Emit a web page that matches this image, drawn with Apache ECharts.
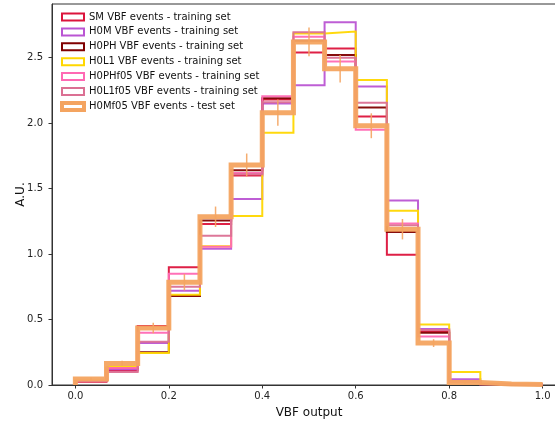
<!DOCTYPE html>
<html><head><meta charset="utf-8">
<script src="https://cdn.jsdelivr.net/npm/echarts@6/dist/echarts.min.js"></script>
<style>html,body{margin:0;padding:0;background:#fff}#c{width:555px;height:422px}</style>
</head><body><div id="c"></div>
<script>
// 15 equal-width bins on [0, 1]
const binEdges = [0, 1/15, 2/15, 3/15, 4/15, 5/15, 6/15, 7/15, 8/15, 9/15, 10/15, 11/15, 12/15, 13/15, 14/15, 1];

const seriesNames = [
  'SM VBF events - training set',
  'H0M VBF events - training set',
  'H0PH VBF events - training set',
  'H0L1 VBF events - training set',
  'H0PHf05 VBF events - training set',
  'H0L1f05 VBF events - training set',
  'H0Mf05 VBF events - test set'
];
const seriesColors = ['#dc143c', '#ba55d3', '#800000', '#ffd700', '#ff69b4', '#db7093', '#f4a460'];

const smTrain      = [0.025, 0.11, 0.45, 0.90, 1.23, 1.60, 2.18, 2.54, 2.57, 2.05, 0.995, 0.41, 0.03, 0.008, 0.003];
const h0mTrain     = [0.030, 0.12, 0.32, 0.72, 1.04, 1.42, 2.15, 2.29, 2.77, 2.28, 1.41, 0.427, 0.044, 0.010, 0.005];
const h0phTrain    = [0.030, 0.13, 0.25, 0.68, 1.257, 1.64, 2.19, 2.63, 2.52, 2.12, 1.168, 0.40, 0.025, 0.006, 0.002];
const h0l1Train    = [0.035, 0.14, 0.245, 0.69, 1.06, 1.29, 1.926, 2.685, 2.70, 2.33, 1.33, 0.463, 0.10, 0.010, 0.003];
const h0phf05Train = [0.030, 0.13, 0.40, 0.85, 1.056, 1.62, 2.206, 2.66, 2.47, 1.95, 1.234, 0.37, 0.025, 0.006, 0.002];
const h0l1f05Train = [0.030, 0.10, 0.33, 0.75, 1.14, 1.61, 2.16, 2.695, 2.50, 2.155, 1.22, 0.42, 0.03, 0.006, 0.002];
const h0mf05Test   = [0.045, 0.165, 0.435, 0.785, 1.285, 1.68, 2.08, 2.62, 2.415, 1.98, 1.19, 0.32, 0.02, 0.008, 0.003];
const h0mf05TestErr= [0.010, 0.020, 0.040, 0.063, 0.078, 0.088, 0.100, 0.110, 0.105, 0.095, 0.078, 0.030, 0.010, 0.004, 0.002];

const xTicks = [0, 0.2, 0.4, 0.6, 0.8, 1.0];
const yTicks = [0, 0.5, 1.0, 1.5, 2.0, 2.5];

const allValues = [smTrain, h0mTrain, h0phTrain, h0l1Train, h0phf05Train, h0l1f05Train, h0mf05Test];

function stepData(vals) {
  const n = vals.length;
  const d = [[binEdges[0], 0]];
  for (let i = 0; i < n; i++) d.push([binEdges[i], vals[i]]);
  d.push([binEdges[n], vals[n - 1]]);
  d.push([binEdges[n], 0]);
  return d;
}

const FONT = 'DejaVu Sans';
const series = allValues.map((vals, i) => ({
  name: seriesNames[i],
  type: 'line',
  step: 'end',
  symbol: 'none',
  data: stepData(vals),
  lineStyle: { color: seriesColors[i], width: i === 6 ? 5 : 2, opacity: 0.95, join: 'miter' },
  itemStyle: { color: seriesColors[i] },
  z: 2 + i,
  animation: false
}));

const errData = h0mf05Test.map((v, i) => [(binEdges[i] + binEdges[i + 1]) / 2, v, h0mf05TestErr[i]]);
series.push({
  type: 'custom',
  name: 'err',
  data: errData,
  z: 20,
  animation: false,
  renderItem: function (params, api) {
    const x = api.value(0), y = api.value(1), e = api.value(2);
    const p1 = api.coord([x, y - e]);
    const p2 = api.coord([x, y + e]);
    return {
      type: 'line',
      shape: { x1: p1[0], y1: p1[1], x2: p2[0], y2: p2[1] },
      style: { stroke: '#f4a460', lineWidth: 1.5, opacity: 0.9 }
    };
  }
});

const chart = echarts.init(document.getElementById('c'), null, { renderer: 'canvas' });
chart.setOption({
  animation: false,
  backgroundColor: '#fff',
  grid: {
    left: 52, right: -11, top: 4, bottom: 37,
    containLabel: false, outerBoundsMode: 'none',
    show: true, borderColor: '#333', borderWidth: 1, backgroundColor: 'transparent'
  },
  legend: {
    orient: 'vertical', left: 60, top: 11, padding: 0, itemGap: 2.9,
    itemWidth: 22, itemHeight: 7,
    textStyle: { fontFamily: FONT, fontSize: 10, color: '#111', lineHeight: 12 },
    data: seriesNames.map((n, i) => ({
      name: n, icon: 'rect',
      itemStyle: { color: '#fff', borderColor: seriesColors[i], borderWidth: i === 6 ? 4 : 2 }
    }))
  },
  xAxis: {
    type: 'value', min: -0.05, max: 1.05,
    name: 'VBF output', nameLocation: 'middle', nameGap: 21.5, nameMoveOverlap: false,
    nameTextStyle: { fontFamily: FONT, fontSize: 12, color: '#111' },
    axisLine: { onZero: false, lineStyle: { color: '#333', width: 1 } },
    axisTick: { show: true, length: 3.5, customValues: xTicks, lineStyle: { color: '#333' } },
    axisLabel: { customValues: xTicks, margin: 6.5, fontFamily: FONT, fontSize: 10, color: '#222',
      formatter: v => v.toFixed(1) },
    splitLine: { show: false }
  },
  yAxis: {
    type: 'value', min: 0, max: 2.91,
    name: 'A.U.', nameLocation: 'middle', nameGap: 25, nameRotate: 90, nameMoveOverlap: false,
    nameTextStyle: { fontFamily: FONT, fontSize: 12, color: '#111' },
    axisLine: { show: true, onZero: false, lineStyle: { color: '#333', width: 1 } },
    axisTick: { show: true, length: 3.5, customValues: yTicks, lineStyle: { color: '#333' } },
    axisLabel: { customValues: yTicks, margin: 9, fontFamily: FONT, fontSize: 10, color: '#222',
      formatter: v => v.toFixed(1) },
    splitLine: { show: false }
  },
  series: series
});
</script>
</body></html>
